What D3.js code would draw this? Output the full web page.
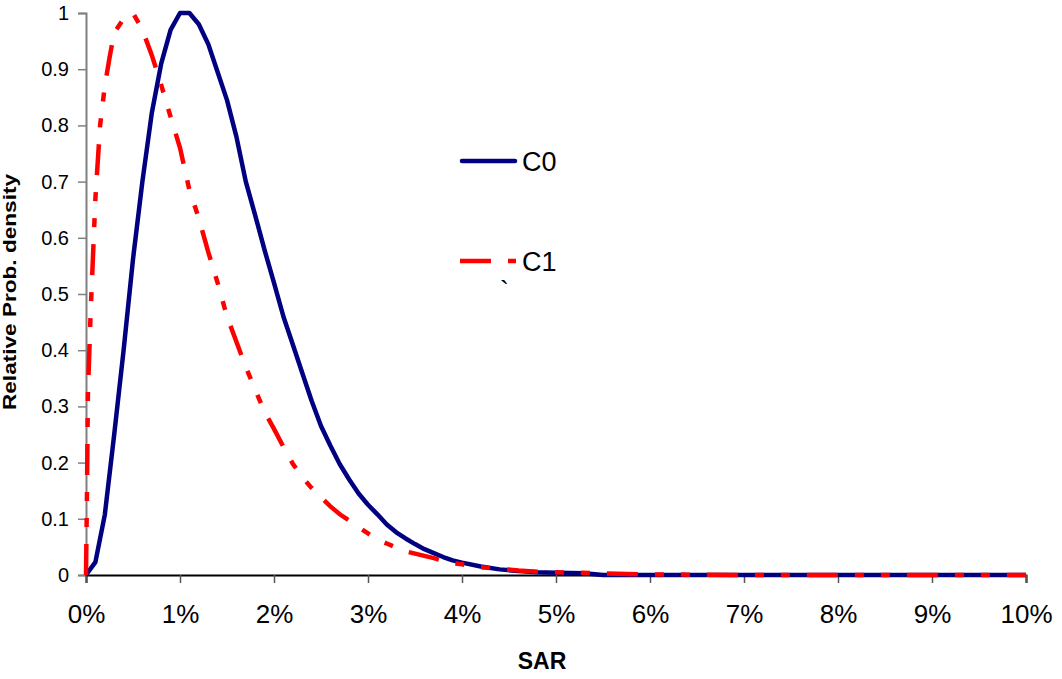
<!DOCTYPE html>
<html>
<head>
<meta charset="utf-8">
<script src="https://cdn.jsdelivr.net/npm/d3@7"></script>
<style>
  html, body { margin: 0; padding: 0; background: #fff; }
  svg { display: block; font-family: Arial, "Liberation Sans", sans-serif; }
</style>
</head>
<body>
<svg id="chart" width="1062" height="679"></svg>
<script>
'use strict';

// SAR in percent, relative probability density
const c0X = [0, 0.1, 0.2, 0.3, 0.4, 0.5, 0.6, 0.7, 0.8, 0.9, 1.0, 1.1, 1.2, 1.3, 1.4, 1.5, 1.6, 1.7, 1.8, 1.9,
  2.0, 2.1, 2.2, 2.3, 2.4, 2.5, 2.6, 2.7, 2.8, 2.9, 3.0, 3.1, 3.2, 3.3, 3.4, 3.5, 3.6, 3.7, 3.8, 3.9,
  4.0, 4.2, 4.4, 4.6, 4.8, 5.0, 5.3, 5.5, 6, 7, 8, 9, 10];
const c0Y = [0, 0.023, 0.107, 0.25, 0.40, 0.562, 0.70, 0.822, 0.91, 0.97, 1.0, 1.0, 0.98, 0.945, 0.895, 0.845, 0.78, 0.70, 0.64, 0.578,
  0.52, 0.46, 0.41, 0.36, 0.31, 0.265, 0.23, 0.197, 0.17, 0.145, 0.125, 0.108, 0.09, 0.076, 0.065, 0.055, 0.046, 0.039, 0.032, 0.026,
  0.022, 0.015, 0.01, 0.007, 0.005, 0.004, 0.003, 0.0, 0, 0, 0, 0, 0];

const c1X = [0, 0.01, 0.02, 0.05, 0.1, 0.15, 0.2, 0.25, 0.3, 0.4, 0.5, 0.6, 0.7, 0.8, 0.9, 1.0, 1.1, 1.2, 1.3, 1.4,
  1.5, 1.6, 1.7, 1.8, 1.9, 2.0, 2.1, 2.2, 2.3, 2.4, 2.5, 2.6, 2.7, 2.8, 2.9, 3.0, 3.1, 3.2, 3.3, 3.4,
  3.5, 3.6, 3.7, 3.8, 3.9, 4.0, 4.2, 4.4, 4.6, 4.8, 5.0, 5.5, 6.0, 7, 8, 9, 10];
const c1Y = [0, 0.14, 0.32, 0.47, 0.67, 0.80, 0.87, 0.92, 0.965, 0.99, 1.0, 0.97, 0.925, 0.872, 0.815, 0.76, 0.685, 0.635, 0.575, 0.52,
  0.46, 0.415, 0.37, 0.33, 0.29, 0.26, 0.228, 0.198, 0.174, 0.155, 0.138, 0.122, 0.108, 0.097, 0.085, 0.074, 0.063, 0.056, 0.049, 0.042,
  0.038, 0.034, 0.030, 0.025, 0.021, 0.019, 0.014, 0.011, 0.008, 0.006, 0.005, 0.003, 0.001, 0, 0, 0, 0];

const xTicks = [0, 1, 2, 3, 4, 5, 6, 7, 8, 9, 10];
const yTicks = [0, 0.1, 0.2, 0.3, 0.4, 0.5, 0.6, 0.7, 0.8, 0.9, 1];
const yTickLabels = ['0', '0.1', '0.2', '0.3', '0.4', '0.5', '0.6', '0.7', '0.8', '0.9', '1'];
const seriesNames = ['C0', 'C1'];

const svg = d3.select('#chart');
const margin = {top: 13, right: 36, bottom: 104, left: 86};
const width = 1062, height = 679;

const x = d3.scaleLinear().domain([0, 10]).range([margin.left, width - margin.right]);
const y = d3.scaleLinear().domain([0, 1]).range([height - margin.bottom, margin.top]);

const dash = '31,17,9,17,9,17';

// y axis (grey line)
const yAxis = svg.append('g')
  .attr('transform', 'translate(' + margin.left + ',0)')
  .call(d3.axisLeft(y).tickValues(yTicks).tickSize(8).tickPadding(9)
    .tickFormat((d, i) => yTickLabels[i]));
yAxis.select('.domain').attr('stroke', '#808080').attr('stroke-width', 2);
yAxis.selectAll('.tick line').attr('stroke', '#808080').attr('stroke-width', 1.5);
yAxis.selectAll('.tick text')
  .attr('font-size', 20).attr('fill', '#000')
  .attr('font-family', 'Arial, "Liberation Sans", sans-serif');

// x axis (black line)
const xAxis = svg.append('g')
  .attr('transform', 'translate(0,' + y(0) + ')')
  .call(d3.axisBottom(x).tickValues(xTicks).tickSize(8).tickPadding(22)
    .tickFormat(d => d + '%'));
xAxis.select('.domain').attr('stroke', '#000').attr('stroke-width', 2);
xAxis.selectAll('.tick line').attr('stroke', '#555').attr('stroke-width', 1.5);
xAxis.selectAll('.tick text')
  .attr('font-size', 26).attr('fill', '#000')
  .attr('font-family', 'Arial, "Liberation Sans", sans-serif');

// curves
const line = d3.line().x(d => x(d[0])).y(d => y(d[1]));

svg.append('path')
  .datum(c0X.map((v, i) => [v, c0Y[i]]))
  .attr('fill', 'none')
  .attr('stroke', '#000080')
  .attr('stroke-width', 4.5)
  .attr('stroke-linejoin', 'round')
  .attr('d', line);

svg.append('path')
  .datum(c1X.map((v, i) => [v, c1Y[i]]))
  .attr('fill', 'none')
  .attr('stroke', '#ff0000')
  .attr('stroke-width', 4.5)
  .attr('stroke-dasharray', dash)
  .attr('d', line);

// legend
const legend = svg.append('g');
legend.append('line')
  .attr('x1', 462).attr('x2', 515).attr('y1', 161).attr('y2', 161)
  .attr('stroke', '#000080').attr('stroke-width', 4.5).attr('stroke-linecap', 'round');
legend.append('line')
  .attr('x1', 460).attr('x2', 516).attr('y1', 261).attr('y2', 261)
  .attr('stroke', '#ff0000').attr('stroke-width', 4.5).attr('stroke-dasharray', dash);
legend.selectAll('text.name')
  .data(seriesNames)
  .join('text')
    .attr('class', 'name')
    .attr('x', 522)
    .attr('y', (d, i) => i === 0 ? 171 : 271)
    .attr('font-size', 27)
    .text(d => d);
// stray mark under the legend
legend.append('text')
  .attr('x', 500).attr('y', 300)
  .attr('font-size', 27)
  .text('`');

// axis titles
svg.append('text')
  .attr('transform', 'translate(16,292) rotate(-90)')
  .attr('text-anchor', 'middle')
  .attr('font-size', 17.5)
  .attr('font-weight', 'bold')
  .attr('textLength', 236)
  .attr('lengthAdjust', 'spacingAndGlyphs')
  .text('Relative Prob. density');

svg.append('text')
  .attr('x', 542).attr('y', 669)
  .attr('text-anchor', 'middle')
  .attr('font-size', 23)
  .attr('font-weight', 'bold')
  .text('SAR');
</script>
</body>
</html>
